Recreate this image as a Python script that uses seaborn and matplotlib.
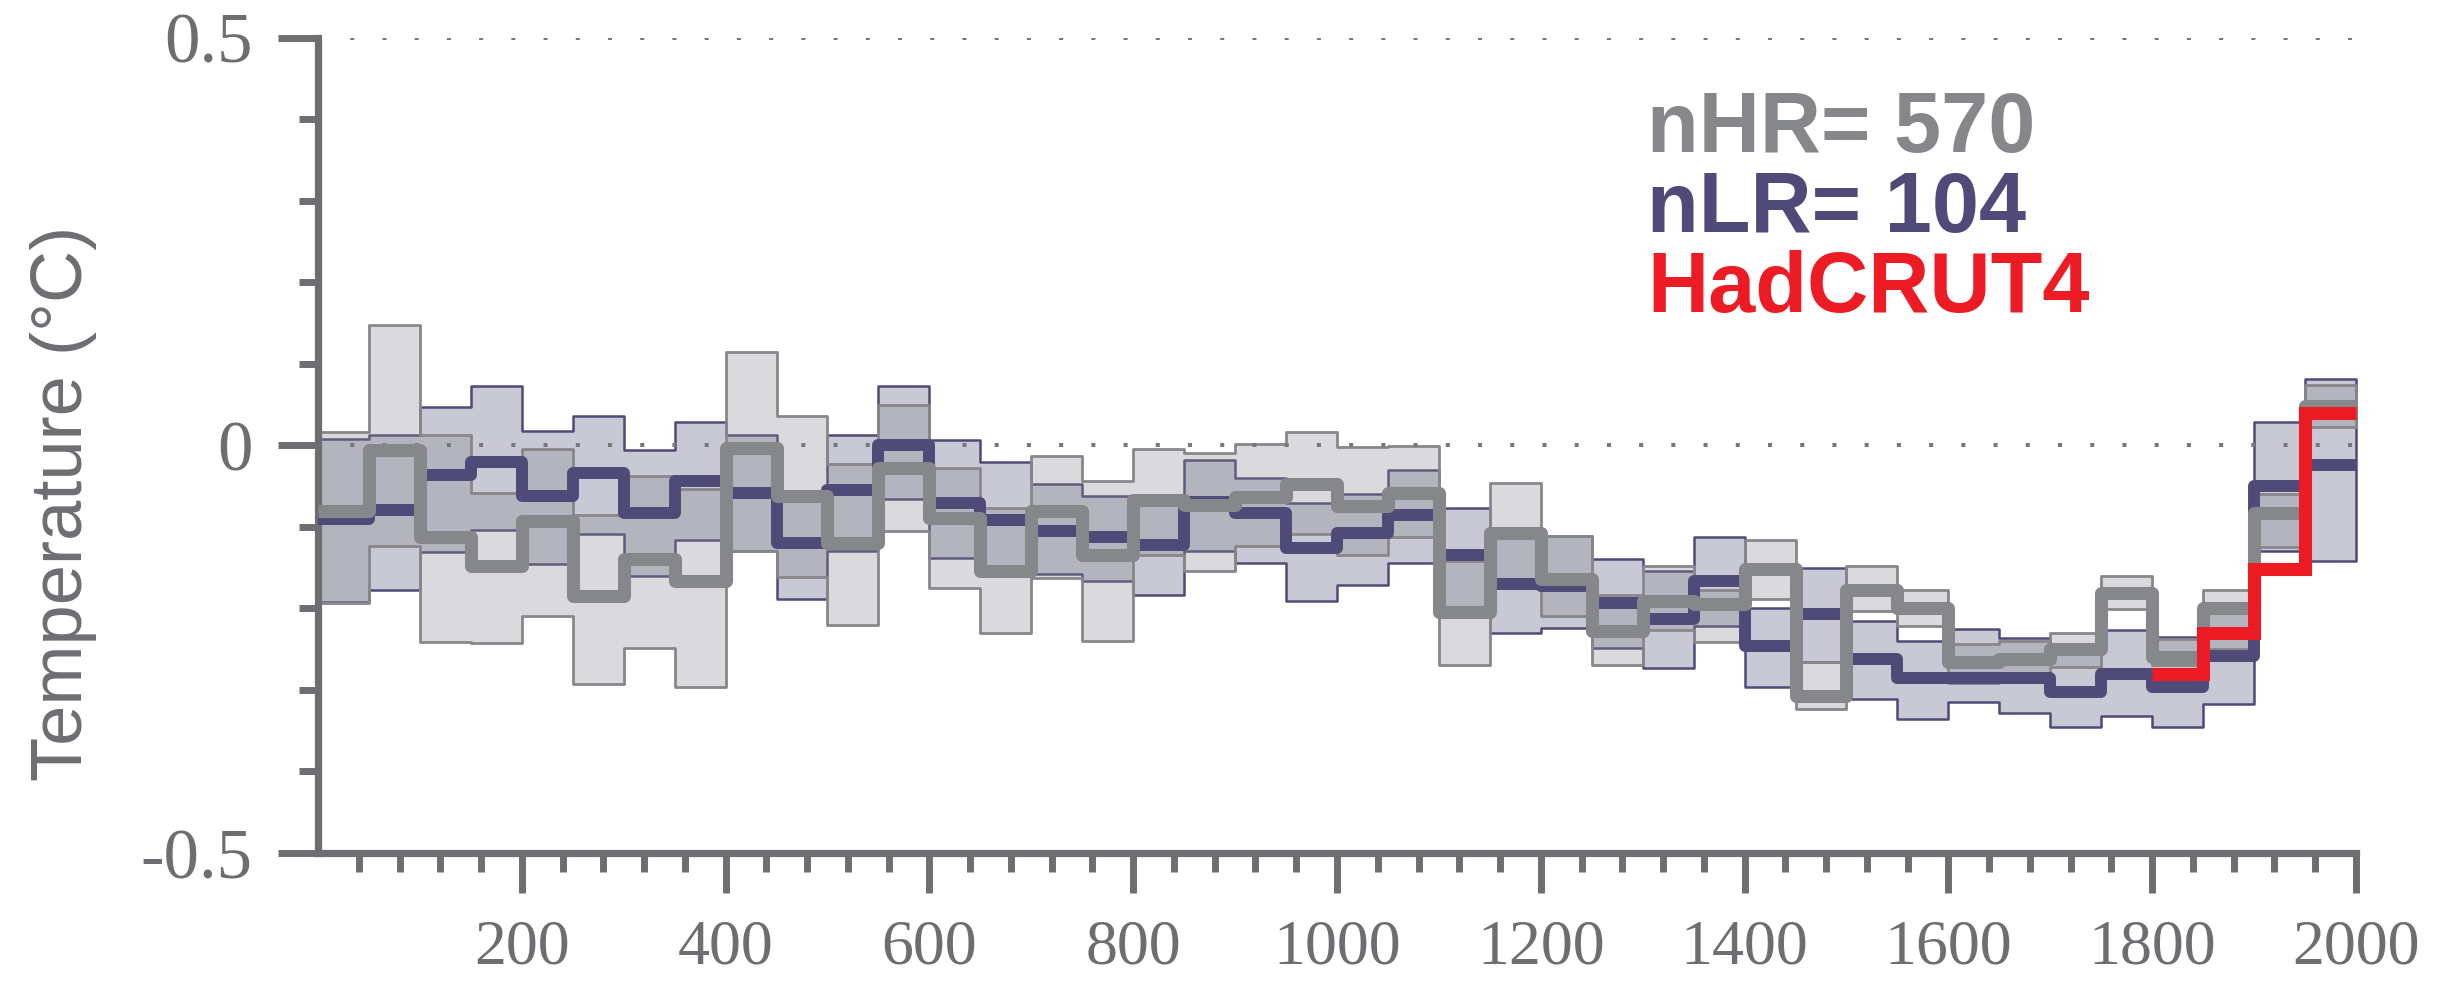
import numpy as np
import pandas as pd
import matplotlib
matplotlib.use("Agg")
import matplotlib.pyplot as plt
import seaborn as sns
from matplotlib import font_manager
from matplotlib.colors import to_rgba

# ---------------- data (50-year bins, start year of each bin) ----------------
bin_start = list(range(0, 2000, 50))

nlr_median = [-0.090, -0.079, -0.036, -0.020, -0.062, -0.034, -0.083, -0.044, -0.058, -0.120,
              -0.055, 0.000, -0.071, -0.091, -0.105, -0.113, -0.122, -0.069, -0.083, -0.126,
              -0.107, -0.085, -0.135, -0.170, -0.172, -0.193, -0.213, -0.166, -0.246, -0.207,
              -0.262, -0.285, -0.285, -0.285, -0.303, -0.281, -0.297, -0.258, -0.050, -0.024]
nlr_low = [-0.192, -0.177, -0.131, -0.104, -0.146, -0.109, -0.160, -0.116, -0.130, -0.189,
           -0.130, -0.066, -0.138, -0.158, -0.158, -0.167, -0.183, -0.130, -0.144, -0.191,
           -0.171, -0.144, -0.200, -0.230, -0.224, -0.249, -0.273, -0.222, -0.297, -0.266,
           -0.311, -0.336, -0.315, -0.328, -0.346, -0.332, -0.346, -0.317, -0.130, -0.142]
nlr_high = [0.008, 0.013, 0.047, 0.073, 0.017, 0.036, -0.006, 0.029, 0.013, -0.060,
            0.013, 0.073, 0.006, -0.020, -0.048, -0.062, -0.065, -0.018, -0.040, -0.071,
            -0.060, -0.030, -0.077, -0.110, -0.111, -0.140, -0.154, -0.113, -0.199, -0.150,
            -0.215, -0.240, -0.225, -0.236, -0.245, -0.226, -0.235, -0.205, 0.029, 0.081]

nhr_median = [-0.081, -0.006, -0.113, -0.148, -0.093, -0.185, -0.140, -0.167, -0.003, -0.062,
              -0.120, -0.028, -0.089, -0.154, -0.081, -0.134, -0.067, -0.073, -0.064, -0.047,
              -0.075, -0.058, -0.205, -0.107, -0.164, -0.228, -0.191, -0.195, -0.152, -0.307,
              -0.177, -0.199, -0.266, -0.262, -0.250, -0.181, -0.260, -0.199, -0.083, 0.048]
nhr_low = [-0.194, -0.123, -0.241, -0.243, -0.209, -0.293, -0.248, -0.297, -0.130, -0.162,
           -0.220, -0.105, -0.175, -0.230, -0.163, -0.240, -0.134, -0.154, -0.124, -0.109,
           -0.134, -0.113, -0.269, -0.175, -0.209, -0.270, -0.226, -0.241, -0.189, -0.324,
           -0.203, -0.222, -0.291, -0.290, -0.272, -0.201, -0.270, -0.250, -0.125, 0.023]
nhr_high = [0.016, 0.148, 0.013, -0.058, -0.005, -0.085, -0.038, -0.054, 0.115, 0.036,
            -0.023, 0.049, -0.028, -0.077, -0.013, -0.044, -0.004, -0.009, 0.001, 0.016,
            -0.002, -0.001, -0.142, -0.046, -0.111, -0.183, -0.148, -0.177, -0.116, -0.266,
            -0.148, -0.177, -0.244, -0.240, -0.230, -0.160, -0.238, -0.177, -0.060, 0.074]

had_start = [1800, 1850, 1900, 1950]
hadcrut4 = [-0.281, -0.230, -0.152, 0.040]

x_major = list(range(200, 2001, 200))
x_major_labels = [str(v) for v in x_major]
y_major = [-0.5, 0.0, 0.5]
y_major_labels = ["-0.5", "0", "0.5"]

labels_text = ["nHR= 570", "nLR= 104", "HadCRUT4"]

# ---------------- style ----------------
PURPLE = "#4f4a77"
GRAY = "#86878b"
RED = "#ed1c24"
AXC = "#6d6e71"

sns.set_style("ticks")
names = {f.name for f in font_manager.fontManager.ttflist}
narrow = "Liberation Sans Narrow" in names
ylab_family = ["Liberation Sans Narrow", "DejaVu Sans"] if narrow else ["Liberation Sans", "DejaVu Sans"]
ylab_size = 61 if narrow else 52
plt.rcParams["font.family"] = ["Liberation Sans", "DejaVu Sans"]


def ext(v):
    return list(v) + [v[-1]]


edges = bin_start + [2000]
had_edges = had_start + [2000]

fig = plt.figure(figsize=(24.59, 9.84), dpi=100)
ax = fig.add_axes([0.12932, 0.13313, 0.82879, 0.82866])

# bands
ax.fill_between(edges, ext(nlr_low), ext(nlr_high), step="post",
                facecolor=to_rgba(PURPLE, 0.30), edgecolor=PURPLE, linewidth=1.8,
                clip_on=False, zorder=1)
ax.fill_between(edges, ext(nhr_low), ext(nhr_high), step="post",
                facecolor=to_rgba(GRAY, 0.30), edgecolor=GRAY, linewidth=2.0,
                clip_on=False, zorder=1.1)

# dotted reference lines
for yv in (0.0, 0.5):
    ax.axhline(yv, color="#77787b", linewidth=2.9, linestyle=(0, (1, 7)),
               dash_capstyle="butt", zorder=1.5)

# medians
sns.lineplot(x=edges, y=ext(nlr_median), ax=ax, color=PURPLE, linewidth=8.6,
             drawstyle="steps-post", solid_joinstyle="round", solid_capstyle="butt",
             clip_on=False, zorder=3, legend=False)
sns.lineplot(x=edges, y=ext(nhr_median), ax=ax, color=GRAY, linewidth=9.4,
             drawstyle="steps-post", solid_joinstyle="round", solid_capstyle="butt",
             clip_on=False, zorder=3.1, legend=False)
sns.lineplot(x=had_edges, y=ext(hadcrut4), ax=ax, color=RED, linewidth=9.4,
             drawstyle="steps-post", solid_joinstyle="miter", solid_capstyle="butt",
             clip_on=False, zorder=3.2, legend=False)

# axes
ax.set_xlim(0, 2000)
ax.set_ylim(-0.5, 0.5)
ax.set_xlabel("")
ax.set_ylabel("")
for s in ("top", "right"):
    ax.spines[s].set_visible(False)
for s in ("left", "bottom"):
    ax.spines[s].set_color(AXC)
    ax.spines[s].set_linewidth(5.2)
    ax.spines[s].set_zorder(2.5)

ax.set_xticks(x_major, labels=x_major_labels)
ax.set_xticks([m for m in range(40, 2000, 40) if m % 200 != 0], minor=True)
ax.set_yticks(y_major, labels=y_major_labels)
ax.set_yticks([-0.4, -0.3, -0.2, -0.1, 0.1, 0.2, 0.3, 0.4], minor=True)

ax.tick_params(which="both", bottom=True, left=True, top=False, right=False)
ax.tick_params(which="major", direction="out", length=29, width=5, color=AXC)
ax.tick_params(which="minor", direction="out", length=14, width=5, color=AXC)
ax.tick_params(axis="x", which="major", pad=19)
ax.tick_params(axis="y", which="major", pad=18)
for lab in ax.get_xticklabels():
    lab.set_fontfamily(["Liberation Serif", "DejaVu Serif"])
    lab.set_fontsize(46)
    lab.set_color(AXC)
for lab in ax.get_yticklabels():
    lab.set_fontfamily(["Liberation Serif", "DejaVu Serif"])
    lab.set_fontsize(51)
    lab.set_color(AXC)

# y label
fig.text(0.026, 0.488, "Temperature (°C)", rotation=90, ha="center", va="center",
         fontsize=ylab_size, color=AXC, family=ylab_family)

# annotation labels
for txt, col, yb in zip(labels_text, [GRAY, PURPLE, RED], [152, 232, 312]):
    fig.text(1647 / 2459, 1 - yb / 984, txt, color=col, fontsize=61,
             fontweight="bold", ha="left", va="baseline",
             family=["Liberation Sans", "DejaVu Sans"])

fig.savefig("out.png", dpi=100)
